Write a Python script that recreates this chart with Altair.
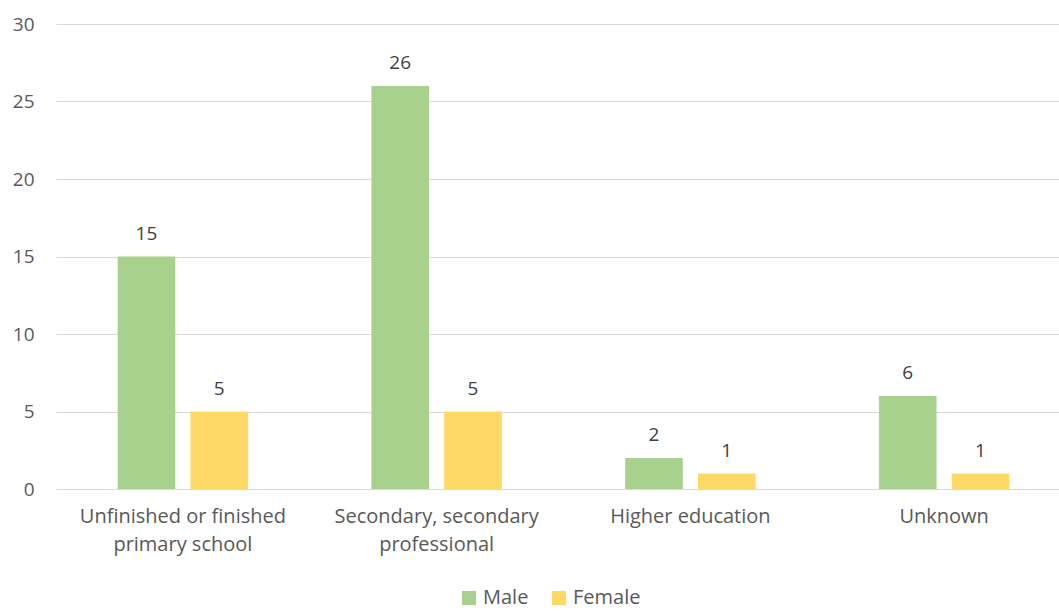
import altair as alt
import pandas as pd

categories = [
    "Unfinished or finished primary school",
    "Secondary, secondary professional",
    "Higher education",
    "Unknown",
]
label_lines = [
    ["Unfinished or finished", "primary school"],
    ["Secondary, secondary", "professional"],
    ["Higher education"],
    ["Unknown"],
]
series = ["Male", "Female"]
male = [15, 26, 2, 6]
female = [5, 5, 1, 1]
colors = ["#A9D18E", "#FFD966"]

rows = []
for c, m, f in zip(categories, male, female):
    rows.append({"category": c, "gender": "Male", "value": m})
    rows.append({"category": c, "gender": "Female", "value": f})
df = pd.DataFrame(rows)

# label expression for multi-line axis labels
expr = "datum.label"
for c, lines in reversed(list(zip(categories, label_lines))):
    arr = "[" + ",".join("'" + l + "'" for l in lines) + "]"
    expr = f"datum.label == '{c}' ? {arr} : ({expr})"

FONT = "Open Sans"
GREY = "#595959"

x = alt.X(
    "category:N",
    sort=categories,
    title=None,
    scale=alt.Scale(range=[0, 1015], paddingInner=0, paddingOuter=0),
    axis=alt.Axis(
        labelAngle=0,
        labelExpr=expr,
        labelFont=FONT,
        labelFontSize=20,
        labelColor=GREY,
        labelLineHeight=28,
        labelPadding=17,
        labelLimit=400,
        ticks=False,
        domain=True,
        domainColor="#D9D9D9",
        grid=False,
        labelBaseline="top",
    ),
)
xo = alt.XOffset(
    "gender:N",
    sort=series,
    scale=alt.Scale(paddingInner=0.208, paddingOuter=0.847),
)
y = alt.Y(
    "value:Q",
    title=None,
    scale=alt.Scale(domain=[0, 30], nice=False),
    axis=alt.Axis(
        values=[0, 5, 10, 15, 20, 25, 30],
        labelFont=FONT,
        labelFontSize=19,
        labelColor=GREY,
        labelPadding=22,
        ticks=False,
        domain=False,
        grid=True,
        gridColor="#D9D9D9",
        gridWidth=1,
    ),
)
color = alt.Color(
    "gender:N",
    sort=series,
    scale=alt.Scale(domain=series, range=colors),
    legend=alt.Legend(
        title=None,
        orient="none",
        legendX=403,
        legendY=564,
        direction="horizontal",
        symbolType="square",
        symbolSize=200,
        symbolStrokeWidth=0,
        labelFont=FONT,
        labelFontSize=20,
        labelColor=GREY,
        columnPadding=20,
        labelOffset=4,
    ),
)

base = alt.Chart(df)
bars = base.mark_bar(strokeWidth=0).encode(x=x, xOffset=xo, y=y, color=color)
text = base.mark_text(
    baseline="bottom", dy=-13, font=FONT, fontSize=19, color="#404040"
).encode(x=x, xOffset=xo, y=y, text="value:Q")

chart = (
    alt.layer(bars, text)
    .properties(
        width=1003,
        height=465,
        autosize=alt.AutoSizeParams(type="none"),
        padding={"left": 56, "top": 24, "right": 0, "bottom": 123},
        background="white",
    )
    .configure_view(stroke=None)
)

chart.save("out.html", embed_options={"renderer": "svg", "actions": False})
